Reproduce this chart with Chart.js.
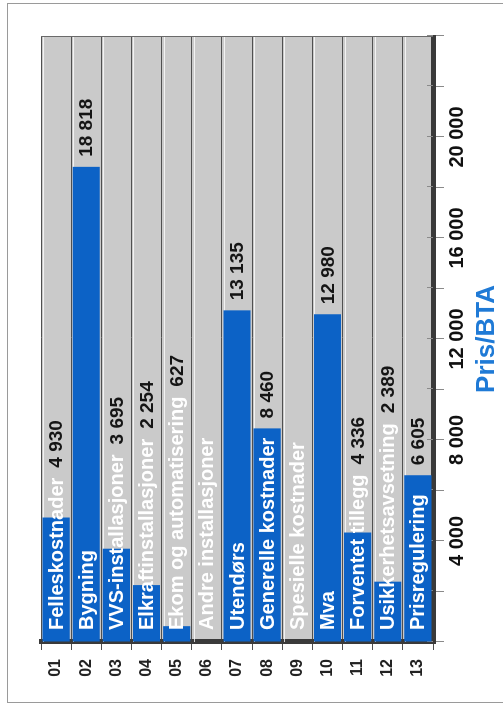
<!DOCTYPE html>
<html><head><meta charset="utf-8">
<script src="https://cdn.jsdelivr.net/npm/chart.js@4/dist/chart.umd.min.js"></script>
<style>
html,body{margin:0;padding:0;background:#fff;width:503px;height:705px;overflow:hidden;}
#frame{position:absolute;left:7px;top:3px;width:500px;height:700px;border:1px solid #9a9a9a;border-right:none;box-sizing:border-box;}
#rot{position:absolute;left:0;top:0;width:705px;height:503px;transform-origin:0 0;transform:translate(0,705px) rotate(-90deg);}
canvas{display:block;}
</style></head><body>
<div id="frame"></div>
<div id="rot"><canvas id="c" width="705" height="503"></canvas></div>
<script>
const codes = ['01','02','03','04','05','06','07','08','09','10','11','12','13'];
const names = ['Felleskostnader','Bygning','VVS-installasjoner','Elkraftinstallasjoner','Ekom og automatisering','Andre installasjoner','Utendørs','Generelle kostnader','Spesielle kostnader','Mva','Forventet tillegg','Usikkerhetsavsetning','Prisregulering'];
const values = [4930, 18818, 3695, 2254, 627, 0, 13135, 8460, 0, 12980, 4336, 2389, 6605];
const valueTicks = [4000, 8000, 12000, 16000, 20000];
const axisTitle = 'Pris/BTA';

const FONT = '"Liberation Sans", Arial, sans-serif';
const fmt = v => String(v).replace(/\B(?=(\d{3})+(?!\d))/g, ' ');

const decor = {
  id: 'decor',
  beforeDraw(chart) {
    const {ctx, chartArea: a} = chart;
    ctx.save();
    ctx.fillStyle = '#cacaca';
    ctx.fillRect(a.left, a.top, a.right - a.left, a.bottom - a.top);
    ctx.restore();
  },
  beforeDatasetsDraw(chart) {
    const {ctx, chartArea: a} = chart;
    const n = codes.length, band = (a.bottom - a.top) / n;
    ctx.save();
    ctx.strokeStyle = 'rgba(255,255,255,0.75)';
    ctx.lineWidth = 1;
    for (let k = 0; k < n; k++) {
      const y = Math.round(a.top + k * band) + 2.5;
      ctx.beginPath(); ctx.moveTo(a.left, y); ctx.lineTo(a.right, y); ctx.stroke();
    }
    ctx.strokeStyle = '#6a6a6a';
    ctx.beginPath(); ctx.moveTo(a.right - 0.5, a.top); ctx.lineTo(a.right - 0.5, a.bottom); ctx.stroke();
    // inner part of value-axis tick marks
    const xs = chart.scales.x;
    ctx.strokeStyle = '#8a8a8a';
    xs.ticks.forEach(t => {
      const x = Math.round(xs.getPixelForValue(t.value)) + 0.5;
      ctx.beginPath(); ctx.moveTo(x, a.bottom - 6); ctx.lineTo(x, a.bottom); ctx.stroke();
    });
    ctx.restore();
  },
  afterDatasetsDraw(chart) {
    const {ctx} = chart;
    const xs = chart.scales.x;
    const meta = chart.getDatasetMeta(0);
    const base = xs.getPixelForValue(0);
    ctx.save();
    ctx.textBaseline = 'middle';
    ctx.textAlign = 'left';
    meta.data.forEach((bar, i) => {
      ctx.font = 'bold 20px ' + FONT;
      ctx.fillStyle = '#ffffff';
      const nx = base + 12;
      ctx.fillText(names[i], nx, bar.y + 1);
      const nEnd = nx + ctx.measureText(names[i]).width;
      if (values[i] > 0) {
        ctx.font = 'bold 19px ' + FONT;
        ctx.fillStyle = '#151515';
        ctx.fillText(fmt(values[i]), Math.max(nEnd, bar.x) + 10, bar.y + 1);
      }
    });
    ctx.restore();
  }
};

new Chart(document.getElementById('c'), {
  type: 'bar',
  data: {
    labels: codes,
    datasets: [{
      data: values,
      backgroundColor: '#0c62c6',
      borderWidth: 0,
      barPercentage: 0.9,
      categoryPercentage: 1.0
    }]
  },
  options: {
    indexAxis: 'y',
    responsive: false,
    devicePixelRatio: 1,
    animation: false,
    layout: {padding: {left: 0, right: 36, top: 41, bottom: 0}},
    plugins: {legend: {display: false}, tooltip: {enabled: false}},
    scales: {
      x: {
        type: 'linear',
        position: 'bottom',
        min: 0, max: 24000,
        ticks: {
          stepSize: 2000, autoSkip: false, maxRotation: 0, minRotation: 0,
          color: '#111', padding: 1,
          font: {family: FONT, size: 20, weight: 'bold'},
          callback: v => valueTicks.includes(v) ? fmt(v) : ''
        },
        grid: {drawOnChartArea: false, drawTicks: true, tickLength: 11, color: '#8a8a8a', lineWidth: 1},
        border: {display: true, color: '#3a3a3a', width: 5},
        title: {display: true, text: axisTitle, color: '#1f7ad6', font: {family: FONT, size: 26, weight: 'bold'}, padding: {top: 0, bottom: 1}},
        afterFit(s) { s.height = 70; }
      },
      y: {
        type: 'category',
        offset: true,
        ticks: {color: '#222', padding: 9, autoSkip: false, font: {family: FONT, size: 16, weight: 'bold'}},
        grid: {offset: true, color: '#505050', lineWidth: 1, tickLength: 8, drawOnChartArea: true},
        border: {display: true, color: '#3a3a3a', width: 5},
        afterFit(s) { s.width = 63; }
      }
    }
  },
  plugins: [decor]
});
</script>
</body></html>
